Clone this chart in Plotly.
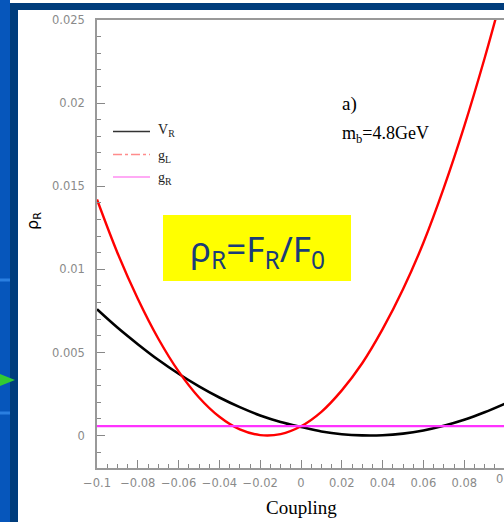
import plotly.graph_objects as go

# ---- data ----
coupling = [-0.10, -0.09, -0.08, -0.07, -0.06, -0.05, -0.04, -0.03, -0.02, -0.01,
            0.00, 0.01, 0.02, 0.03, 0.04, 0.05, 0.06, 0.07, 0.08, 0.09, 0.10]
rho_VR = [0.0076, 0.0065, 0.0055, 0.00456, 0.00372, 0.00296, 0.00229, 0.00171, 0.00121, 0.00082,
          0.00052, 0.00025, 0.00008, 0.00001, 0.00002, 0.00012, 0.00031, 0.00059, 0.00095, 0.0014, 0.00192]
coupling_gL = [-0.10, -0.09, -0.08, -0.07, -0.06, -0.05, -0.04, -0.03, -0.02, -0.01,
               0.00, 0.01, 0.02, 0.03, 0.04, 0.05, 0.06, 0.07, 0.08, 0.09, 0.097]
rho_gL = [0.0142, 0.0110, 0.00823, 0.00584, 0.00386, 0.00229, 0.00113, 0.00037, 0.00003, 0.00009,
          0.00056, 0.00143, 0.00272, 0.00435, 0.0064, 0.0088, 0.0116, 0.0149, 0.0186, 0.0227, 0.0258]
coupling_gR = [-0.10, 0.10]
rho_gR = [0.00057, 0.00057]

x_tickvals = [-0.1, -0.08, -0.06, -0.04, -0.02, 0, 0.02, 0.04, 0.06, 0.08]
x_ticktext = ["−0.1", "−0.08", "−0.06", "−0.04", "−0.02", "0", "0.02", "0.04", "0.06", "0.08"]
y_tickvals = [0, 0.005, 0.01, 0.015, 0.02, 0.025]
y_ticktext = ["0", "0.005", "0.01", "0.015", "0.02", "0.025"]

# ---- layout geometry (pixels) ----
W, H = 504, 522
L, T, B = 97, 20, 54
PW = W - L
PH = H - T - B


def px(x):
    return (x - L) / PW


def py(y):
    return (H - B - y) / PH


fig = go.Figure()
fig.add_trace(go.Scatter(x=coupling, y=rho_VR, mode="lines", name="V_R",
                         line=dict(color="black", width=2.6, shape="spline")))
fig.add_trace(go.Scatter(x=coupling_gL, y=rho_gL, mode="lines", name="g_L",
                         line=dict(color="#ff0000", width=2.4, shape="spline")))
fig.add_trace(go.Scatter(x=coupling_gR, y=rho_gR, mode="lines", name="g_R",
                         line=dict(color="#ff33ff", width=2.2)))

shapes = []
# blue slide frame
shapes.append(dict(type="rect", xref="paper", yref="paper", x0=px(0), x1=px(W + 5), y0=py(0), y1=py(-5),
                   fillcolor="#0a60c6", line_width=0, layer="above"))
shapes.append(dict(type="rect", xref="paper", yref="paper", x0=px(10), x1=px(W + 5), y0=py(10), y1=py(3),
                   fillcolor="#003d7c", line_width=0, layer="above"))
shapes.append(dict(type="rect", xref="paper", yref="paper", x0=px(-5), x1=px(10), y0=py(H + 5), y1=py(0),
                   fillcolor="#0656bb", line_width=0, layer="above"))
shapes.append(dict(type="rect", xref="paper", yref="paper", x0=px(10), x1=px(18), y0=py(H + 5), y1=py(3),
                   fillcolor="#003d7c", line_width=0, layer="above"))
for yy in (280, 413):
    shapes.append(dict(type="rect", xref="paper", yref="paper", x0=px(0), x1=px(10), y0=py(yy + 1.5), y1=py(yy - 1.5),
                       fillcolor="#2a7fe0", line_width=0, layer="above"))
# green arrow
shapes.append(dict(type="path", xref="paper", yref="paper", layer="above",
                   path=f"M {px(-5)},{py(372)} L {px(15)},{py(380)} L {px(-5)},{py(388)} Z",
                   fillcolor="#33cc33", line_width=0))
# yellow box
shapes.append(dict(type="rect", xref="paper", yref="paper", x0=px(163), x1=px(351), y0=py(281), y1=py(215),
                   fillcolor="#ffff00", line_width=0, layer="above"))
# legend lines
shapes.append(dict(type="line", xref="paper", yref="paper", x0=px(113), x1=px(150), y0=py(131.5), y1=py(131.5),
                   line=dict(color="#333333", width=1.3)))
shapes.append(dict(type="line", xref="paper", yref="paper", x0=px(113), x1=px(150), y0=py(154.5), y1=py(154.5),
                   line=dict(color="#ff8c8c", width=1.6, dash="dashdot")))
shapes.append(dict(type="line", xref="paper", yref="paper", x0=px(113), x1=px(150), y0=py(177), y1=py(177),
                   line=dict(color="#ffaaf5", width=2)))

serif = "Liberation Serif"
ann = []
ann.append(dict(xref="paper", yref="paper", x=px(156), y=py(131), xanchor="left", yanchor="middle",
                text="V<sub>R</sub>", showarrow=False, font=dict(family=serif, size=14, color="#222")))
ann.append(dict(xref="paper", yref="paper", x=px(156), y=py(156), xanchor="left", yanchor="middle",
                text="g<sub>L</sub>", showarrow=False, font=dict(family=serif, size=14, color="#222")))
ann.append(dict(xref="paper", yref="paper", x=px(156), y=py(178), xanchor="left", yanchor="middle",
                text="g<sub>R</sub>", showarrow=False, font=dict(family=serif, size=14, color="#222")))
ann.append(dict(xref="paper", yref="paper", x=px(340), y=py(104), xanchor="left", yanchor="middle",
                text="a)", showarrow=False, font=dict(family=serif, size=19, color="black")))
ann.append(dict(xref="paper", yref="paper", x=px(340), y=py(134), xanchor="left", yanchor="middle",
                text="m<sub>b</sub>=4.8GeV", showarrow=False, font=dict(family=serif, size=18, color="black")))
ann.append(dict(xref="paper", yref="paper", x=px(257), y=py(250), xanchor="center", yanchor="middle",
                text="ρ<sub>R</sub>=F<sub>R</sub>/F<sub>0</sub>", showarrow=False,
                font=dict(family="Noto Sans", size=35, color="#1a3c78")))
ann.append(dict(xref="paper", yref="paper", x=px(301), y=py(508), xanchor="center", yanchor="middle",
                text="Coupling", showarrow=False, font=dict(family=serif, size=19, color="black")))
ann.append(dict(xref="paper", yref="paper", x=px(33), y=py(221), xanchor="center", yanchor="middle",
                text="ρ<sub>R</sub>", textangle=-90, showarrow=False,
                font=dict(family="DejaVu Sans", size=16, color="black")))
ann.append(dict(xref="paper", yref="paper", x=px(505), y=py(479), xanchor="center", yanchor="middle",
                text="0.1", showarrow=False, font=dict(family="DejaVu Sans", size=11.5, color="#8a8a8a")))

tickfont = dict(family="DejaVu Sans", size=11.5, color="#8a8a8a")
fig.update_layout(
    width=W, height=H,
    margin=dict(l=L, r=0, t=T, b=B, pad=0),
    paper_bgcolor="white", plot_bgcolor="white",
    showlegend=False,
    shapes=shapes, annotations=ann,
    xaxis=dict(range=[-0.1, -0.1 + PW / 2040.0], tickvals=x_tickvals, ticktext=x_ticktext,
               showgrid=False, zeroline=False, showline=True, linecolor="#999999", linewidth=1.5,
               mirror=True, ticks="inside", ticklen=8, tickcolor="#888888", tickwidth=1.2,
               minor=dict(dtick=0.005, ticks="inside", ticklen=4, tickcolor="#888888", tickwidth=1),
               tickfont=tickfont, ticklabelstandoff=3),
    yaxis=dict(range=[-0.00195, 0.025], tickvals=y_tickvals, ticktext=y_ticktext,
               showgrid=False, zeroline=False, showline=True, linecolor="#999999", linewidth=1.5,
               ticks="inside", ticklen=8, tickcolor="#888888", tickwidth=1.2,
               minor=dict(dtick=0.001, tick0=0, ticks="inside", ticklen=4, tickcolor="#888888", tickwidth=1),
               tickfont=tickfont, ticklabelstandoff=8),
)

fig.write_html("out.html")
